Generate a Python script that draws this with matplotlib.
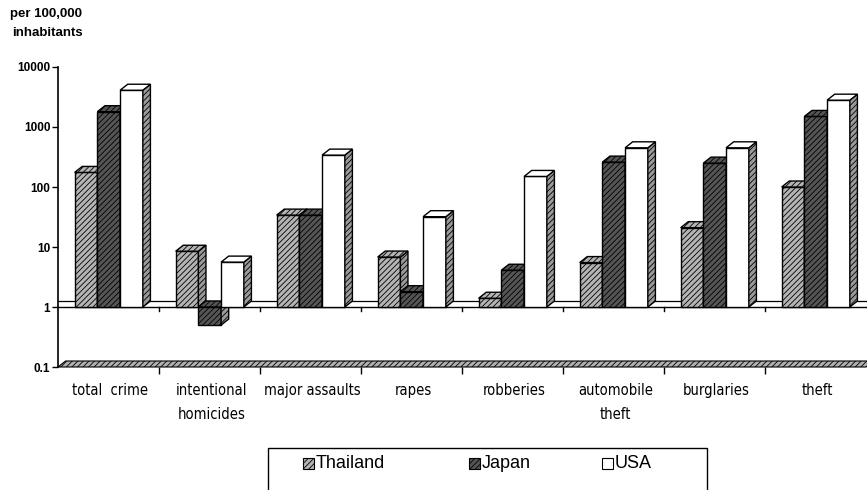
"""Crime rates per 100,000 inhabitants: Thailand vs Japan vs USA (3-D style log bars)."""
import numpy as np
import matplotlib

matplotlib.use("Agg")
import matplotlib.pyplot as plt
from matplotlib.patches import Polygon, Rectangle

plt.rcParams["hatch.linewidth"] = 0.6

categories = ["total  crime", "intentional\nhomicides", "major assaults", "rapes",
              "robberies", "automobile\ntheft", "burglaries", "theft"]
series = ["Thailand", "Japan", "USA"]
thailand = [175, 8.5, 34, 6.8, 1.4, 5.5, 21, 100]
japan = [1800, 0.5, 34, 1.8, 4.1, 260, 250, 1500]
usa = [4100, 5.6, 340, 32, 150, 450, 450, 2800]
yticks = [0.1, 1, 10, 100, 1000, 10000]
ytick_labels = ["0.1", "1", "10", "100", "1000", "10000"]

values = [thailand, japan, usa]
face = ["#b4b4b4", "#555555", "white"]
hatch = ["//////", "//////", None]

W, H = 867, 490
fig = plt.figure(figsize=(W / 100, H / 100), dpi=100)
ax = fig.add_axes([58 / W, (H - 367) / H, 808 / W, 300 / H])
ax.set_yscale("log")
ax.set_ylim(0.1, 10000)
ax.set_xlim(0, 8)

dx = 0.075                 # depth offset (x units)
f = 10 ** 0.1              # depth offset (multiplicative in log y)
bw = 0.225
start = 0.165

# floor at 1 and the base slab at 0.1
ax.plot([0, 8 + dx], [f, f], color="black", lw=0.9, zorder=1, clip_on=False)
ax.plot([0, 8], [1, 1], color="black", lw=1.0, zorder=1, clip_on=False)
ax.add_patch(Polygon([(0, 0.1), (8, 0.1), (8 + dx, 0.1 * f), (dx, 0.1 * f)],
                     closed=True, facecolor="#b0b0b0", edgecolor="black",
                     hatch="//////", lw=0.8, zorder=1, clip_on=False))

for i in range(len(categories)):
    for j, vals in enumerate(values):
        v = vals[i]
        x0 = i + start + bw * j
        x1 = x0 + bw
        b, t = min(1, v), max(1, v)
        z = 3 + i * 3 + j
        ax.add_patch(Polygon([(x0, b), (x1, b), (x1, t), (x0, t)], closed=True,
                             facecolor=face[j], edgecolor="black", hatch=hatch[j],
                             lw=1.0, zorder=z, clip_on=False))
        ax.add_patch(Polygon([(x1, b), (x1 + dx, b * f), (x1 + dx, t * f), (x1, t)],
                             closed=True, facecolor="#9a9a9a", edgecolor="black",
                             hatch="//////", lw=1.0, zorder=z, clip_on=False))
        ax.add_patch(Polygon([(x0, t), (x0 + dx, t * f), (x1 + dx, t * f), (x1, t)],
                             closed=True, facecolor=face[j], edgecolor="black",
                             hatch=hatch[j], lw=1.0, zorder=z, clip_on=False))

for s in ["top", "right", "bottom"]:
    ax.spines[s].set_visible(False)
ax.spines["left"].set_linewidth(1.2)
ax.set_yticks(yticks)
ax.set_yticklabels(ytick_labels, fontsize=8.5, fontweight="bold", family="Liberation Sans")
ax.minorticks_off()
ax.tick_params(axis="y", direction="out", length=4, width=1, pad=1.5)
ax.set_xticks(np.arange(1, 8))
ax.set_xticklabels([])
ax.tick_params(axis="x", direction="out", length=5, width=1)
for k in range(1, 8):
    ax.plot([k, k], [1, 0.85], color="black", lw=1, zorder=2)

for i, c in enumerate(categories):
    ax.text(i + 0.52, 0.054, c, ha="center", va="top", fontsize=10.5,
            family="DejaVu Sans", fontstretch="condensed", linespacing=1.75,
            transform=ax.transData)

fig.text(10 / W, 1 - 14 / H, "per 100,000", fontsize=9.5, fontweight="bold",
         family="Liberation Sans", va="center")
fig.text(12 / W, 1 - 33 / H, "inhabitants", fontsize=9.5, fontweight="bold",
         family="Liberation Sans", va="center")

# legend box (bottom edge runs off the page, as in the scan)
fig.patches.append(Rectangle((268 / W, 1 - 520 / H), 439 / W, 72 / H,
                             transform=fig.transFigure, facecolor="none",
                             edgecolor="black", lw=1.0))
sq_x = [303, 469, 602]
for j, name in enumerate(series):
    fig.patches.append(Rectangle((sq_x[j] / W, 1 - 469 / H), 11 / W, 11 / H,
                                 transform=fig.transFigure, facecolor=face[j],
                                 edgecolor="black", hatch=hatch[j], lw=0.8))
    fig.text((sq_x[j] + 13) / W, 1 - 463 / H, name, fontsize=13,
             family="Liberation Sans", va="center", ha="left")

fig.savefig("out.png", dpi=100)
